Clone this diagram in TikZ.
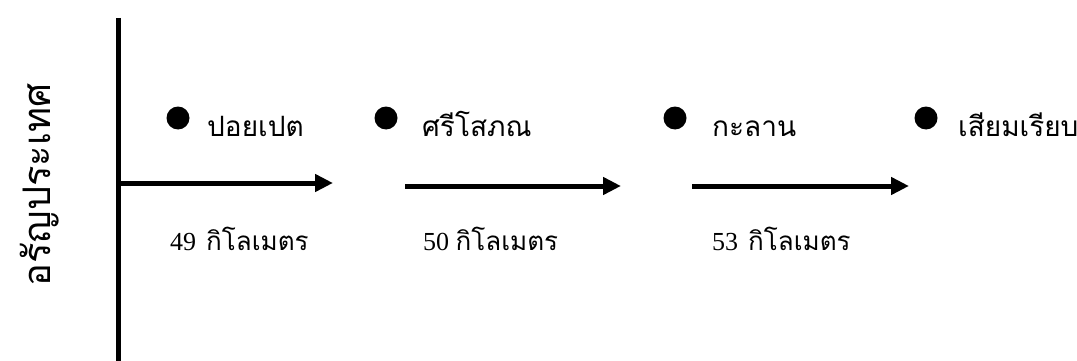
\documentclass[tikz,border=0pt]{standalone}
\usepackage{fontspec}
\setmainfont{Liberation Serif}
\newfontfamily\thaifont[Script=Thai]{Loma}
\usetikzlibrary{arrows.meta,positioning}
\begin{document}
\begin{tikzpicture}[x=1pt,y=-1pt,
    dot/.style={circle,fill=black,inner sep=0pt,minimum size=23pt},
    town/.style={anchor=base west,inner sep=0pt,font=\fontsize{28}{32}\selectfont\thaifont},
    dist/.style={anchor=base west,inner sep=0pt,font=\fontsize{26}{30}\selectfont},
    road/.style={line width=5pt,-{Triangle[length=18pt,width=17pt]}}]
  \useasboundingbox (0,0) rectangle (1077,361);
  % border line
  \coordinate (top) at (118,18);
  \coordinate (bottom) at (118,361);
  \draw[line width=5pt] (top) -- (bottom);
  \node[rotate=90,inner sep=0pt,font=\fontsize{38}{42}\selectfont\thaifont] (aran) at (40,185) {อรัญประเทศ};
  % towns
  \node[dot] (d1) at (178,118) {};
  \node[dot] (d2) at (386,118) {};
  \node[dot] (d3) at (675,118) {};
  \node[dot] (d4) at (926,118) {};
  \node[town] (poipet) at (207,136) {ปอยเปต};
  \node[town] (sisophon) at (422,136) {ศรีโสภณ};
  \node[town] (kralanh) at (712,136) {กะลาน};
  \node[town] (siemreap) at (958,136) {เสียมเรียบ};
  % roads
  \coordinate (r1s) at (118,183);
  \coordinate (r1e) at (333,183);
  \coordinate (r2s) at (405,186);
  \coordinate (r2e) at (621,186);
  \coordinate (r3s) at (692,186);
  \coordinate (r3e) at (909,186);
  \draw[road] (r1s) -- (r1e);
  \draw[road] (r2s) -- (r2e);
  \draw[road] (r3s) -- (r3e);
  % distances
  \node[dist] (km1) at (170,250) {49\hspace{10pt}{\thaifont กิโลเมตร}};
  \node[dist] (km2) at (423,250) {50 {\thaifont กิโลเมตร}};
  \node[dist] (km3) at (712,250) {53\hspace{10pt}{\thaifont กิโลเมตร}};
\end{tikzpicture}
\end{document}
